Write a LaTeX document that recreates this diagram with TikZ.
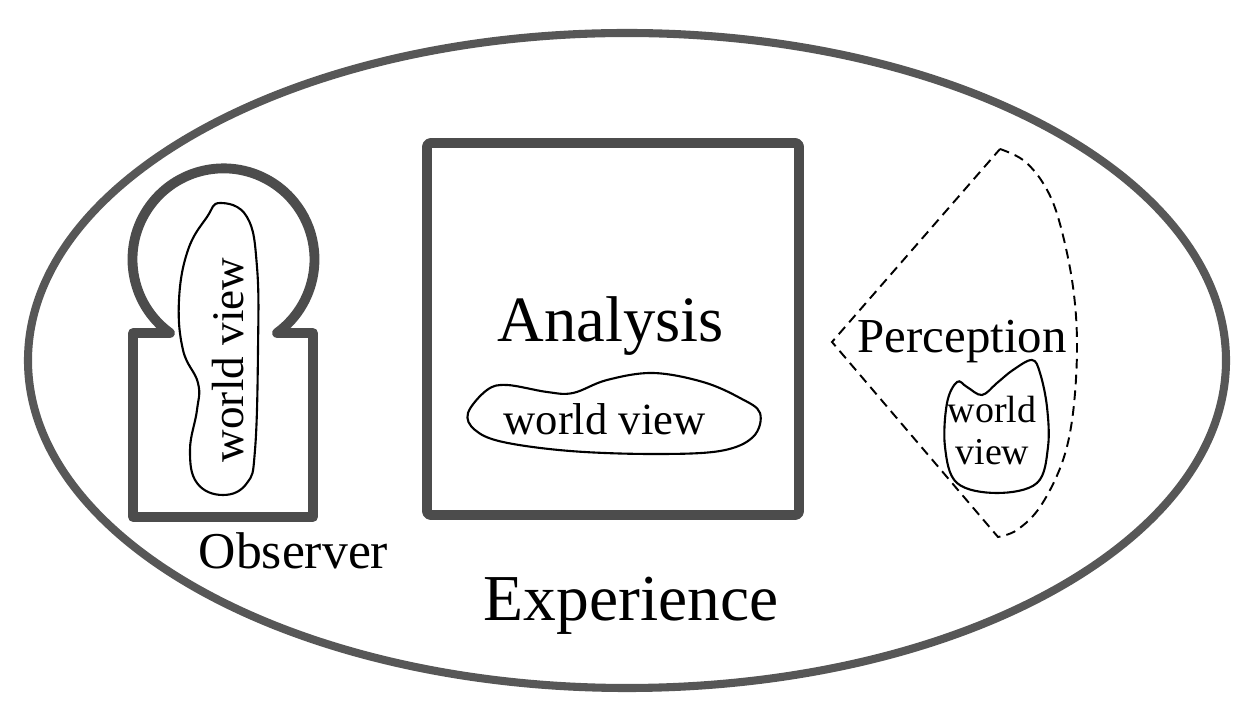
\documentclass[tikz,border=0pt]{standalone}
\usepackage{fontspec}
\setmainfont{Liberation Serif}
\newcommand{\fsz}[1]{\fontsize{#1}{1.05\dimexpr#1\relax}\selectfont}

\tikzset{
  frame/.style={draw=black!70, line width=5.6pt, line join=round},
  outline/.style={draw=black!66, line width=4.6pt},
  blob/.style={draw=black, line width=1.2pt},
  txt/.style={anchor=base, inner sep=0pt}
}

\begin{document}
\begin{tikzpicture}[x=0.02cm, y=0.02cm]
\useasboundingbox (0,0) rectangle (1238,710);
% Experience
\draw[outline] (627,349.5) ellipse [x radius=599, y radius=327.5];
% Observer (keyhole)
\draw[frame] (133,193)--(133,377)--(170,377) arc[start angle=234, end angle=-54, radius=91]
  --(313,377)--(313,193)--cycle;
\draw[blob] plot[smooth cycle, tension=0.7] coordinates {(220,507) (247,493) (257,443) (258,360)
  (255,260) (247,227) (223,215) (197,227) (190,260) (197,300) (198,327) (183,360) (179,410)
  (188,460) (207,493)};
\node[txt, rotate=90] (obsview) at (243,350) {\fsz{25.7pt}world view};
% Analysis
\draw[frame, rounded corners=2pt] (427,195) rectangle (799,567);
\draw[blob] plot[smooth cycle, tension=0.6] coordinates {(468,297) (487,320) (507,325) (547,318)
  (573,317) (607,330) (653,337) (703,328) (740,312) (760,297) (753,273) (720,259) (653,256)
  (570,259) (503,268) (475,280)};
% Perception
\draw[black, line width=1.1pt, dash pattern=on 5.5pt off 3.5pt] plot[smooth, tension=0.6]
  coordinates {(1000,561) (1023,550) (1043,527) (1058,493) (1072,430) (1077,367) (1073,297)
  (1062,247) (1040,203) (1017,180) (998,173)} -- (832,368) -- cycle;
\draw[blob] plot[smooth cycle, tension=0.6] coordinates {(1032,350) (1013,340) (997,327) (982,315)
  (967,323) (957,328) (947,307) (945,263) (957,227) (997,217) (1037,227) (1048,263) (1047,303)
  (1040,337)};

\node[txt] (analysis)   at ( 610.5,368) {\fsz{36.8pt}Analysis};
\node[txt] (anaview)    at ( 604.5,275) {\fsz{25.4pt}world view};
\node[txt] (perception) at ( 962,  357) {\fsz{27.8pt}Perception};
\node[txt] (perworld)   at ( 992,  287) {\fsz{21.6pt}world};
\node[txt] (perview)    at ( 992.5,245) {\fsz{21.6pt}view};
\node[txt] (observer)   at ( 293.5,141) {\fsz{29.4pt}Observer};
\node[txt] (experience) at ( 631,   89) {\fsz{37.3pt}Experience};
\end{tikzpicture}
\end{document}
